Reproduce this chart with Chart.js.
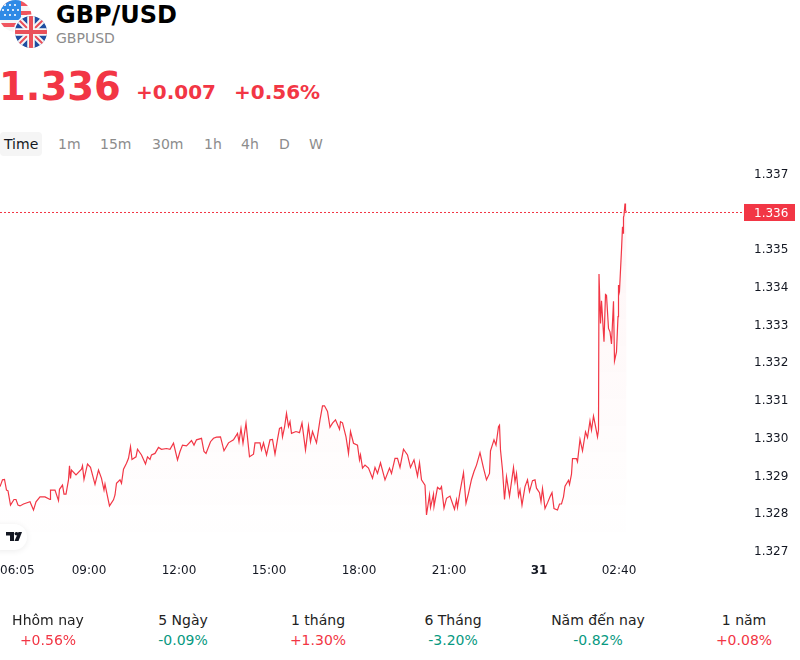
<!DOCTYPE html>
<html lang="vi">
<head>
<meta charset="utf-8">
<title>GBP/USD</title>
<script src="https://cdn.jsdelivr.net/npm/chart.js@4/dist/chart.umd.min.js"></script>
<style>
    html, body { margin: 0; padding: 0; background: #fff; }
    body { position: relative; width: 800px; height: 660px; overflow: hidden; font-family: "DejaVu Sans", sans-serif; }
    .abs { position: absolute; white-space: nowrap; line-height: 1; }
    #flags { position: absolute; left: 0; top: 0; }
    #name { left: 56px; top: 3px; font-size: 24px; font-weight: bold; color: #000; }
    #symbol { left: 56px; top: 31px; font-size: 14px; color: #8c8c8c; }
    #price { left: -1px; top: 68px; font-size: 38.5px; font-weight: bold; color: #f23645; }
    #change { left: 136px; top: 82px; font-size: 20px; font-weight: bold; color: #f23645; }
    #changePct { left: 234px; top: 82px; font-size: 20px; font-weight: bold; color: #f23645; }
    #activeTab { position: absolute; left: 0; top: 132px; width: 42px; height: 24px; border-radius: 4px; background: #f5f5f5; }
    .tab { top: 137px; font-size: 14px; color: #8c8c8c; }
    .tab.on { color: #131722; }
    #chartBox { position: absolute; left: 0; top: 160px; width: 800px; height: 420px; }
    #tvBadge { position: absolute; left: -12px; top: 524px; width: 39px; height: 26px; border-radius: 13px; background: #fff; box-shadow: 0 1px 6px rgba(0,0,0,0.08); }
    #tvLogo { position: absolute; left: 6px; top: 532px; }
    .perf { transform: translateX(-50%); font-size: 14px; }
    .perf.label { top: 613px; color: #222; }
    .perf.value { top: 633px; }
</style>
</head>
<body>
<svg id="flags" width="50" height="50" viewBox="0 0 50 50">
    <defs>
        <clipPath id="usClip"><circle cx="15.5" cy="16" r="16"/></clipPath>
        <clipPath id="ukClip"><circle cx="31" cy="32" r="16"/></clipPath>
    </defs>
    <g clip-path="url(#usClip)">
        <rect x="0" y="0" width="33" height="33" fill="#f6f6f6"/>
        <rect x="0" y="1" width="33" height="5" fill="#f0555f"/>
        <rect x="0" y="11" width="33" height="4" fill="#f0555f"/>
        <rect x="0" y="23" width="33" height="4" fill="#f0555f"/>
        <rect x="0" y="0" width="21" height="20" fill="#2f8ae6"/>
        <g fill="#fff">
            <circle cx="5" cy="5" r="1.1"/><circle cx="10" cy="5" r="1.1"/><circle cx="15" cy="5" r="1.1"/>
            <circle cx="3" cy="10" r="1.1"/><circle cx="8" cy="10" r="1.1"/><circle cx="13" cy="10" r="1.1"/><circle cx="18" cy="10" r="1.1"/>
            <circle cx="5" cy="15" r="1.1"/><circle cx="10" cy="15" r="1.1"/><circle cx="15" cy="15" r="1.1"/>
        </g>
    </g>
    <circle cx="31" cy="32" r="17.5" fill="#fff"/>
    <g clip-path="url(#ukClip)">
        <rect x="14" y="15" width="34" height="34" fill="#1f4ea1"/>
        <path d="M14 15L48 49M48 15L14 49" stroke="#f6f6f6" stroke-width="6"/>
        <path d="M14 15L48 49M48 15L14 49" stroke="#e9505a" stroke-width="2"/>
        <path d="M31 15V49M14 32H48" stroke="#f6f6f6" stroke-width="7.5"/>
        <path d="M31 15V49M14 32H48" stroke="#e9505a" stroke-width="4"/>
    </g>
</svg>
<div class="abs" id="name">GBP/USD</div>
<div class="abs" id="symbol">GBPUSD</div>
<div class="abs" id="price">1.336</div>
<div class="abs" id="change">+0.007</div>
<div class="abs" id="changePct">+0.56%</div>
<div id="activeTab"></div>
<div id="chartBox"><canvas id="priceChart" width="800" height="420"></canvas></div>
<div id="tvBadge"></div>
<svg id="tvLogo" width="16" height="9" viewBox="0 0 16 10" preserveAspectRatio="none">
    <path d="M0 0H8V10H4V4H0Z" fill="#131722"/>
    <circle cx="10.5" cy="2" r="2" fill="#131722"/>
    <path d="M12.5 0H16L12.5 10H8.5Z" fill="#131722"/>
</svg>
<script>
// minutes since midnight of the 30th, so 00:00 on the 31st is 1440
const times = [
    362, 367, 371, 375, 378, 383, 390, 394, 398, 402, 409, 422, 429, 434, 442, 452, 462, 463, 472, 479,
    481, 487, 490, 494, 499, 501, 503, 505, 514, 525, 527, 530, 537, 543, 552, 559, 565, 570, 572, 575,
    581, 589, 592, 595, 602, 605, 609, 615, 619, 623, 626, 634, 637, 645, 653, 657, 662, 665, 672, 679,
    685, 695, 702, 709, 717, 722, 727, 735, 745, 750, 755, 765, 770, 774, 783, 789, 795, 803, 810, 819,
    829, 837, 840, 844, 848, 854, 861, 869, 872, 882, 885, 889, 895, 902, 907, 912, 917, 921, 925, 927,
    931, 935, 939, 942, 945, 954, 961, 966, 973, 979, 983, 987, 995, 1002, 1007, 1011, 1017, 1022, 1027, 1033,
    1041, 1043, 1047, 1054, 1059, 1063, 1069, 1077, 1081, 1083, 1087, 1092, 1099, 1107, 1112, 1117, 1123, 1132, 1141, 1145,
    1152, 1157, 1162, 1169, 1177, 1183, 1190, 1197, 1201, 1205, 1212, 1215, 1221, 1223, 1229, 1230, 1237, 1242, 1245, 1250,
    1255, 1262, 1271, 1275, 1277, 1282, 1289, 1294, 1299, 1305, 1310, 1315, 1322, 1329, 1335, 1341, 1343, 1350, 1354, 1359,
    1361, 1363, 1367, 1371, 1375, 1381, 1389, 1392, 1395, 1399, 1402, 1406, 1412, 1417, 1421, 1427, 1432, 1435, 1441, 1444,
    1447, 1452, 1457, 1462, 1466, 1470, 1477, 1481, 1485, 1489, 1492, 1499, 1501, 1505, 1507, 1515, 1517, 1522, 1527, 1533,
    1537, 1542, 1545, 1549, 1552, 1557, 1559, 1560, 1563, 1565, 1570, 1573, 1575, 1579, 1582, 1585, 1589, 1591, 1595, 1598,
    1599, 1601, 1605, 1607, 1608, 1609, 1610, 1612, 1613, 1615
];
const prices = [
    1.32868, 1.32886, 1.32887, 1.32859, 1.32857, 1.32819, 1.32834, 1.32834, 1.32819, 1.32817, 1.32822, 1.32828, 1.32806, 1.32828, 1.32841, 1.32841, 1.32834, 1.32859, 1.32859, 1.32831,
    1.32861, 1.32872, 1.32848, 1.32848, 1.32886, 1.32923, 1.32890, 1.32912, 1.32899, 1.32914, 1.32923, 1.32887, 1.32928, 1.32919, 1.32874, 1.32912, 1.32890, 1.32859, 1.32875, 1.32855,
    1.32817, 1.32833, 1.32846, 1.32877, 1.32886, 1.32877, 1.32914, 1.32930, 1.32943, 1.32974, 1.32940, 1.32947, 1.32967, 1.32952, 1.32928, 1.32947, 1.32940, 1.32952, 1.32956, 1.32972,
    1.32967, 1.32969, 1.32967, 1.32983, 1.32939, 1.32961, 1.32978, 1.32976, 1.32990, 1.32978, 1.32992, 1.32996, 1.32961, 1.32956, 1.32987, 1.32996, 1.32999, 1.33000, 1.32963, 1.32984,
    1.32992, 1.33009, 1.32987, 1.33022, 1.32983, 1.33036, 1.32947, 1.32954, 1.32984, 1.32984, 1.32965, 1.32984, 1.32952, 1.32992, 1.32993, 1.32954, 1.32993, 1.33022, 1.33025, 1.33000,
    1.33025, 1.33062, 1.33027, 1.33040, 1.33009, 1.33014, 1.33011, 1.33037, 1.32965, 1.33029, 1.32987, 1.33014, 1.32984, 1.33045, 1.33082, 1.33082, 1.33067, 1.33025, 1.33036, 1.33045,
    1.33020, 1.33040, 1.33037, 1.33000, 1.32956, 1.33014, 1.32983, 1.32978, 1.32939, 1.32952, 1.32917, 1.32925, 1.32917, 1.32890, 1.32919, 1.32903, 1.32931, 1.32886, 1.32917, 1.32903,
    1.32943, 1.32943, 1.32919, 1.32967, 1.32952, 1.32919, 1.32939, 1.32896, 1.32931, 1.32886, 1.32872, 1.32793, 1.32846, 1.32813, 1.32848, 1.32815, 1.32866, 1.32861, 1.32868, 1.32811,
    1.32837, 1.32843, 1.32808, 1.32833, 1.32813, 1.32855, 1.32905, 1.32824, 1.32850, 1.32887, 1.32908, 1.32925, 1.32958, 1.32917, 1.32886, 1.32903, 1.32963, 1.32992, 1.32978, 1.33027,
    1.33031, 1.32965, 1.32912, 1.32834, 1.32894, 1.32843, 1.32919, 1.32881, 1.32903, 1.32843, 1.32859, 1.32819, 1.32868, 1.32886, 1.32855, 1.32884, 1.32886, 1.32864, 1.32852, 1.32828,
    1.32863, 1.32810, 1.32825, 1.32841, 1.32852, 1.32810, 1.32806, 1.32822, 1.32822, 1.32841, 1.32869, 1.32885, 1.32874, 1.32901, 1.32942, 1.32942, 1.32934, 1.32993, 1.32963, 1.33013,
    1.32998, 1.33042, 1.33018, 1.33055, 1.33035, 1.33000, 1.33018, 1.33431, 1.33300, 1.33360, 1.33252, 1.33377, 1.33375, 1.33287, 1.33278, 1.33246, 1.33359, 1.33201, 1.33225, 1.33318,
    1.33402, 1.33387, 1.33495, 1.33556, 1.33539, 1.33581, 1.33587, 1.33618, 1.33600, 1.33594
];
const lastPrice = 1.33594;

const xTickTimes = [362, 540, 720, 900, 1080, 1260, 1440, 1600];
const xTickLabels = ['06:05', '09:00', '12:00', '15:00', '18:00', '21:00', '31', '02:40'];
const yTicks = [1.327, 1.328, 1.329, 1.33, 1.331, 1.332, 1.333, 1.334, 1.335, 1.337];

const tabNames = ['Time', '1m', '15m', '30m', '1h', '4h', 'D', 'W'];
const tabLefts = [4, 58, 100, 152, 204, 241, 279, 309];

const perfNames = ['Hhôm nay', '5 Ngày', '1 tháng', '6 Tháng', 'Năm đến nay', '1 năm'];
const perfValues = ['+0.56%', '-0.09%', '+1.30%', '-3.20%', '-0.82%', '+0.08%'];
const perfCenters = [48, 183, 318, 453, 598, 744];

const UP = '#f23645';
const DOWN = '#089981';
const X_MIN = 362;
const X_MAX = 1850;

function addText(cls, text, left, color) {
    const el = document.createElement('div');
    el.className = 'abs ' + cls;
    el.textContent = text;
    el.style.left = left + 'px';
    if (color) el.style.color = color;
    document.body.appendChild(el);
}

tabNames.forEach((t, i) => addText(i === 0 ? 'tab on' : 'tab', t, tabLefts[i]));
perfNames.forEach((t, i) => {
    addText('perf label', t, perfCenters[i]);
    addText('perf value', perfValues[i], perfCenters[i], perfValues[i][0] === '+' ? UP : DOWN);
});

// the axes reserve room for half a label at each end; the plot runs edge to edge here
function dropLabelPadding(axis) {
    axis.paddingLeft = 0;
    axis.paddingRight = 0;
    axis.paddingTop = 0;
    axis.paddingBottom = 0;
}

// price tag sitting on the right axis at the last price
const lastPriceTag = {
    id: 'lastPriceTag',
    afterDraw(chart) {
        const ctx = chart.ctx;
        const y = chart.scales.y.getPixelForValue(lastPrice);
        ctx.save();
        ctx.fillStyle = UP;
        ctx.fillRect(chart.chartArea.right, y - 8.5, 51, 17);
        ctx.fillStyle = '#fff';
        ctx.font = '12px "DejaVu Sans"';
        ctx.textBaseline = 'middle';
        ctx.fillText(lastPrice.toFixed(3), chart.chartArea.right + 10, y + 1);
        ctx.restore();
    },
};

new Chart(document.getElementById('priceChart'), {
    type: 'line',
    data: {
        datasets: [
            {
                data: times.map((t, i) => ({ x: t, y: prices[i] })),
                borderColor: UP,
                borderWidth: 1.2,
                pointRadius: 0,
                tension: 0,
                fill: 'start',
                backgroundColor(context) {
                    const area = context.chart.chartArea;
                    if (!area) return 'rgba(242, 54, 69, 0.04)';
                    const g = context.chart.ctx.createLinearGradient(0, 40, 0, area.bottom - 10);
                    g.addColorStop(0, 'rgba(242, 54, 69, 0.05)');
                    g.addColorStop(1, 'rgba(242, 54, 69, 0)');
                    return g;
                },
            },
            {
                data: [{ x: X_MIN, y: lastPrice }, { x: X_MAX, y: lastPrice }],
                borderColor: UP,
                borderWidth: 1,
                borderDash: [2, 2],
                pointRadius: 0,
                fill: false,
            },
        ],
    },
    plugins: [lastPriceTag],
    options: {
        responsive: false,
        animation: false,
        layout: { padding: 0 },
        plugins: { legend: { display: false }, tooltip: { enabled: false } },
        scales: {
            x: {
                type: 'linear',
                min: X_MIN,
                max: X_MAX,
                grid: { display: false, drawTicks: false },
                border: { display: false },
                afterBuildTicks(axis) {
                    axis.ticks = xTickTimes.concat(X_MAX).map(v => ({ value: v }));
                },
                afterFit(axis) {
                    axis.height = 25;
                    dropLabelPadding(axis);
                },
                ticks: {
                    autoSkip: false,
                    maxRotation: 0,
                    align: 'inner',
                    padding: 9,
                    color: '#131722',
                    font: ctx => ({
                        family: '"DejaVu Sans"',
                        size: 12,
                        weight: ctx.tick && ctx.tick.value === 1440 ? 'bold' : 'normal',
                    }),
                    callback(value) {
                        const i = xTickTimes.indexOf(value);
                        return i < 0 ? '' : xTickLabels[i];
                    },
                },
            },
            y: {
                position: 'right',
                min: 1.32687,
                max: 1.33733,
                grid: { display: false, drawTicks: false },
                border: { display: false },
                afterBuildTicks(axis) {
                    axis.ticks = yTicks.map(v => ({ value: v }));
                },
                afterFit(axis) {
                    axis.width = 56;
                    dropLabelPadding(axis);
                },
                ticks: {
                    padding: 10,
                    labelOffset: 2,
                    color: '#131722',
                    font: { family: '"DejaVu Sans"', size: 12 },
                    callback: v => v.toFixed(3),
                },
            },
        },
    },
});
</script>
</body>
</html>
